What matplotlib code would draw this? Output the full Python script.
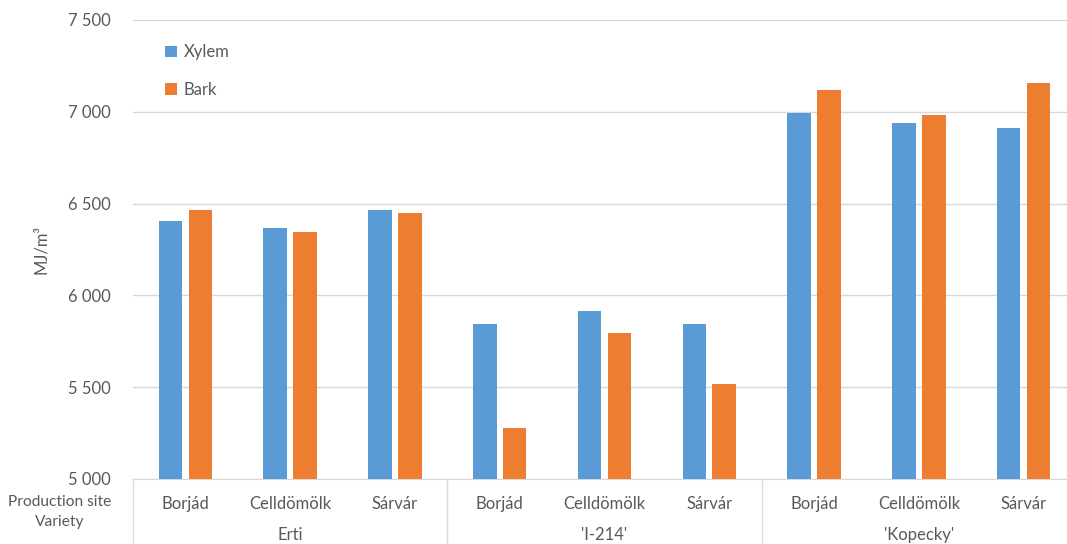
import matplotlib
matplotlib.use("Agg")
import matplotlib.pyplot as plt
import numpy as np
from matplotlib.lines import Line2D

plt.rcParams['font.family'] = ['Lato', 'DejaVu Sans']

sites = ["Borjád", "Celldömölk", "Sárvár"] * 3
varieties = ["Erti", "'I-214'", "'Kopecky'"]
xylem = [6407, 6368, 6464, 5846, 5917, 5842, 6993, 6938, 6911]
bark = [6467, 6346, 6451, 5279, 5796, 5520, 7118, 6985, 7159]
yticks = [5000, 5500, 6000, 6500, 7000, 7500]
ytick_labels = ["5 000", "5 500", "6 000", "6 500", "7 000", "7 500"]

W, H = 1067, 544
fig = plt.figure(figsize=(W / 100, H / 100), dpi=100)
left_px, right_px = 133, 1076
top_px, bot_px = 20, 479
ax = fig.add_axes([left_px / W, 1 - bot_px / H, (right_px - left_px) / W, (bot_px - top_px) / H])

txt = '#595959'
blue = '#5B9BD5'
orange = '#ED7D31'

x = np.arange(len(sites))
bw = 0.225
off = 0.143
ax.bar(x - off, [v - 5000 for v in xylem], bw, bottom=5000, color=blue, label='Xylem', zorder=3)
ax.bar(x + off, [v - 5000 for v in bark], bw, bottom=5000, color=orange, label='Bark', zorder=3)

ax.set_xlim(-0.5, len(sites) - 0.5)
ax.set_ylim(5000, 7500)
ax.set_yticks(yticks)
ax.set_yticklabels(ytick_labels, color=txt, fontsize=12)
ax.grid(axis='y', color='#D9D9D9', linewidth=1.0, zorder=0)
for s in ['top', 'right', 'left']:
    ax.spines[s].set_visible(False)
ax.spines['bottom'].set_color('#D9D9D9')
ax.tick_params(axis='y', length=0, pad=16)
ax.tick_params(axis='x', length=0, pad=12)
ax.set_xticks(x)
ax.set_xticklabels(sites, color=txt, fontsize=12)

ax.set_ylabel('MJ/m³', color=txt, fontsize=12, labelpad=14)

# group labels
trans = ax.get_xaxis_transform()
for i, v in enumerate(varieties):
    ax.text(3 * i + 1, -(535 - bot_px) / (bot_px - top_px), v, transform=trans,
            ha='center', va='center', color=txt, fontsize=12)
# separators
for b in [-0.5, 2.5, 5.5, 8.5]:
    ax.add_line(Line2D([b, b], [0, -(H - bot_px + 5) / (bot_px - top_px)], transform=trans,
                       color='#D9D9D9', linewidth=1.0, clip_on=False))

fig.text(60 / W, 1 - 512 / H, "Production site\nVariety", ha='center', va='center',
         color=txt, fontsize=11.2, linespacing=1.6)

leg = ax.legend(loc='upper left', bbox_to_anchor=((150 - left_px) / (right_px - left_px), 0.98),
                frameon=False, fontsize=12, handlelength=0.7, handleheight=0.7,
                handletextpad=0.4, labelspacing=1.3, labelcolor=txt)

fig.savefig('out.png', dpi=100)
